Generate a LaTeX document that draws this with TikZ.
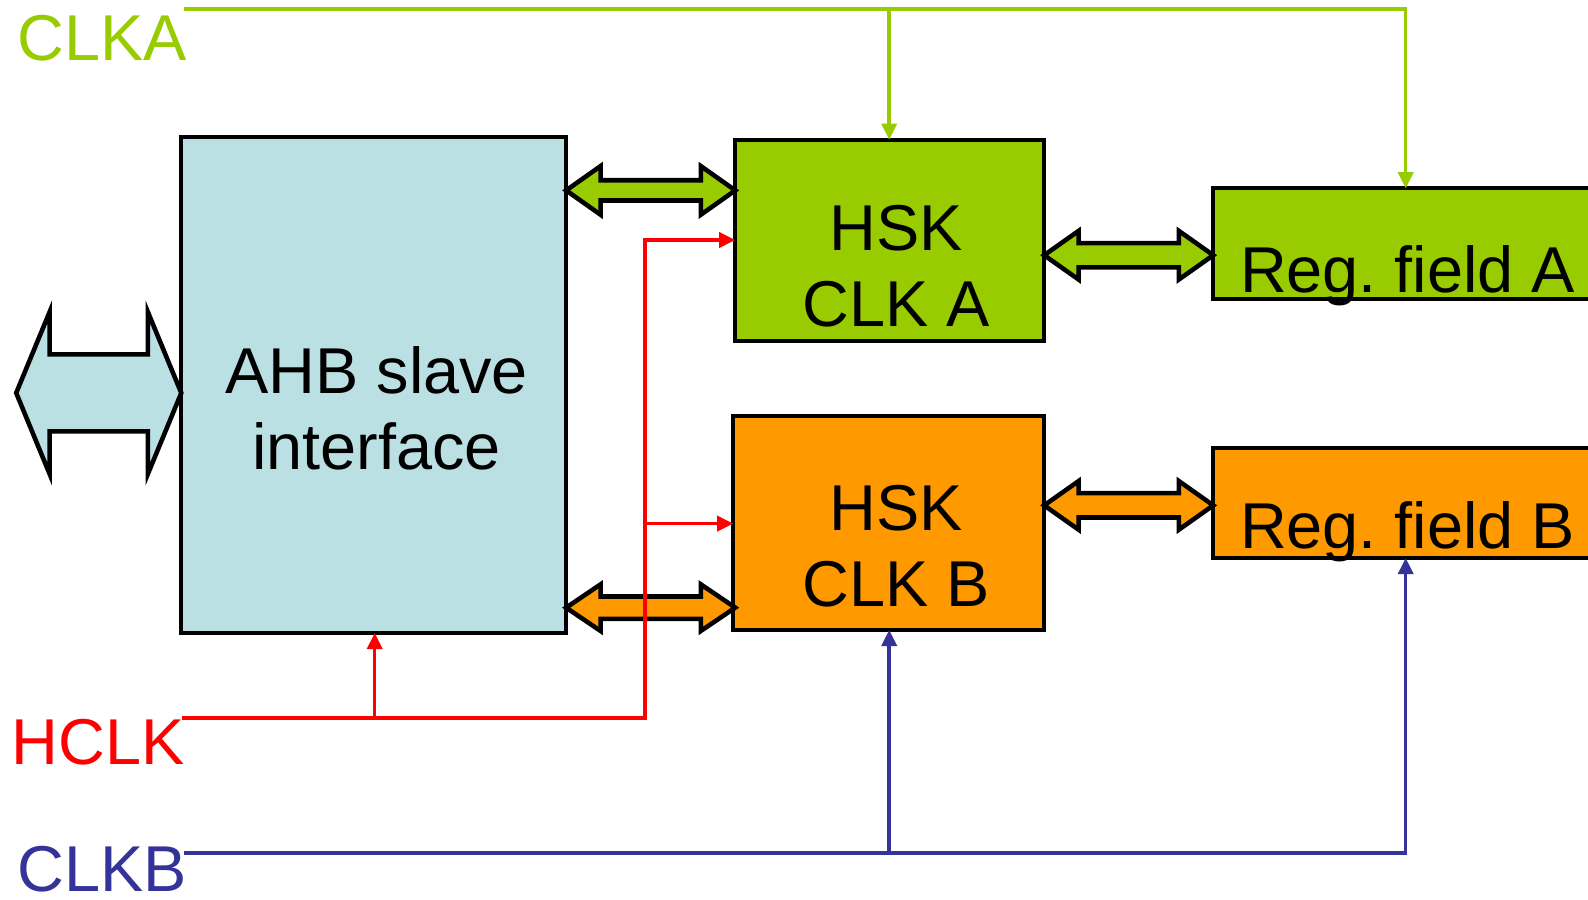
\documentclass[tikz,border=0pt]{standalone}
\usepackage{fontspec}
\setmainfont{Liberation Sans}
\usetikzlibrary{arrows.meta,calc}
\definecolor{ahbc}{HTML}{BBE0E3}
\definecolor{grn}{HTML}{99CC00}
\definecolor{org}{HTML}{FF9900}
\definecolor{redc}{HTML}{FF0000}
\definecolor{blu}{HTML}{333399}
\frenchspacing
\tikzset{
 blk/.style={draw=black, line width=2pt, outer sep=0pt, inner sep=0pt, anchor=north west},
 big/.style={font=\fontsize{32}{37.5}\selectfont, inner sep=0pt, align=center, anchor=center},
 lbl/.style={font=\fontsize{32}{37.5}\selectfont, inner sep=0pt, anchor=base west},
 wire/.style={line width=1.75pt},
 tipa/.style={-{Triangle[length=8pt,width=7.5pt]}},
 barrow/.style={draw=black, line width=2.25pt, line join=miter},
}
% fill, xL, xR, yc, headlen, headhalf, shafthalf
\newcommand\blockarrow[7]{%
 \path[barrow, fill=#1] (#2,#4) -- (#2+#5,#4-#6) -- (#2+#5,#4-#7) -- (#3-#5,#4-#7)
   -- (#3-#5,#4-#6) -- (#3,#4) -- (#3-#5,#4+#6) -- (#3-#5,#4+#7) -- (#2+#5,#4+#7)
   -- (#2+#5,#4+#6) -- cycle;}
\begin{document}
\begin{tikzpicture}[x=0.5pt,y=-0.5pt]
\useasboundingbox (0,0) rectangle (1568,888);
\clip (0,0) rectangle (1568,888);
% boxes
\node[blk, fill=ahbc, minimum width=190pt, minimum height=245pt] (ahb) at (179,135) {};
\node[blk, fill=grn, minimum width=152.5pt, minimum height=99.5pt] (hska) at (726,138) {};
\node[blk, fill=org, minimum width=153.5pt, minimum height=105.5pt] (hskb) at (724,411) {};
\node[blk, fill=grn, minimum width=200pt, minimum height=54.5pt] (rega) at (1198,186) {};
\node[blk, fill=org, minimum width=200pt, minimum height=54.5pt] (regb) at (1198,442) {};
% box texts
\node[big] (ahbt) at (372,403) {AHB slave\\interface};
\node[big] (hskat) at (885,263) {HSK\\CLK A};
\node[big] (hskbt) at (885,539) {HSK\\CLK B};
\node[lbl] (regat) at (1224,289) {Reg. field A};
\node[lbl] (regbt) at (1224,542) {Reg. field B};
% block arrows
\blockarrow{ahbc}{16}{179}{388}{33}{80}{38}
\blockarrow{grn}{559}{726}{188}{34}{24}{10}
\blockarrow{org}{559}{726}{600}{34}{23}{11}
\blockarrow{grn}{1031}{1198}{252}{34}{24}{12}
\blockarrow{org}{1031}{1198}{499}{34}{24}{12}
% clock labels
\node[lbl, text=grn] (clka) at (17,60) {CLKA};
\node[lbl, text=redc] (hclk) at (11,755) {HCLK};
\node[lbl, text=blu] (clkb) at (17,880) {CLKB};
% CLKA wires
\coordinate (clkas) at (182,9);
\coordinate (ja1) at (878,9);
\coordinate (ja2) at (1388,9);
\draw[wire, grn, tipa] (clkas) -- (ja2) -- (ja2 |- rega.north);
\draw[wire, grn, tipa] (ja1) -- (ja1 |- hska.north);
% HCLK wires
\coordinate (hclks) at (180,709);
\coordinate (jh1) at (370,709);
\coordinate (jh2) at (637,709);
\coordinate (jh3) at (637,517);
\coordinate (jh4) at (637,237);
\draw[wire, redc, tipa] (hclks) -- (jh2) -- (jh4) -- (jh4 -| hska.west);
\draw[wire, redc, tipa] (jh1) -- (jh1 |- ahb.south);
\draw[wire, redc, tipa] (jh3) -- (jh3 -| hskb.west);
% CLKB wires
\coordinate (clkbs) at (182,842);
\coordinate (jb1) at (878,842);
\coordinate (jb2) at (1388,842);
\draw[wire, blu, tipa] (clkbs) -- (jb2) -- (jb2 |- regb.south);
\draw[wire, blu, tipa] (jb1) -- (jb1 |- hskb.south);
\end{tikzpicture}
\end{document}
